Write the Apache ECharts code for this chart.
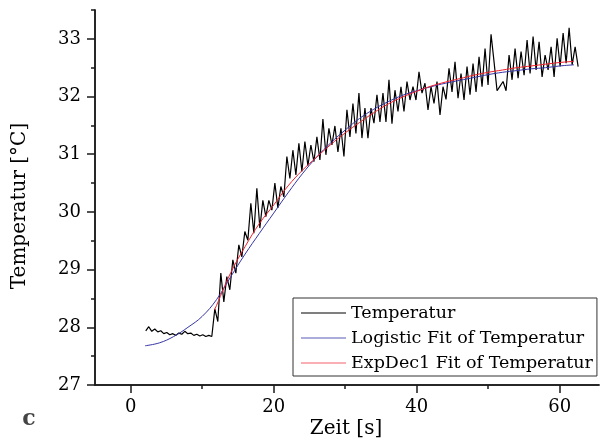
<!DOCTYPE html>
<html>
<head>
<meta charset="utf-8">
<script src="https://cdn.jsdelivr.net/npm/echarts@6/dist/echarts.min.js"></script>
<style>
  html, body { margin: 0; padding: 0; background: #fff; }
  #chart { width: 600px; height: 444px; }
</style>
</head>
<body>
<div id="chart"></div>
<script>
// Measured temperature, sampled every timeStep seconds starting at timeStart
const timeStart = 2.1;
const timeStep = 0.42;
const temperatur = [
  27.94, 28.01, 27.93, 27.97, 27.92, 27.94, 27.89, 27.91, 27.87, 27.89,
  27.86, 27.90, 27.88, 27.93, 27.89, 27.90, 27.86, 27.88, 27.85, 27.87,
  27.84, 27.86, 27.84, 28.32, 28.10, 28.94, 28.44, 28.88, 28.65, 29.17,
  28.94, 29.43, 29.22, 29.66, 29.51, 30.15, 29.63, 30.41, 29.72, 30.20,
  29.92, 30.20, 30.03, 30.50, 30.07, 30.44, 30.26, 30.96, 30.58, 31.07,
  30.64, 31.19, 30.70, 31.22, 30.80, 31.16, 30.87, 31.30, 30.90, 31.61,
  30.99, 31.45, 31.16, 31.49, 31.04, 31.45, 30.96, 31.77, 31.30, 31.88,
  31.36, 32.06, 31.28, 31.80, 31.28, 31.80, 31.54, 32.03, 31.56, 32.06,
  31.56, 32.29, 31.53, 32.11, 31.74, 32.17, 31.74, 32.26, 31.94, 32.17,
  31.94, 32.43, 32.06, 32.23, 31.77, 32.17, 31.88, 32.26, 31.68, 32.17,
  31.95, 32.49, 32.08, 32.60, 31.97, 32.40, 31.94, 32.52, 32.03, 32.57,
  32.08, 32.69, 32.17, 32.83, 32.20, 33.08, 32.60, 32.10, 32.18, 32.26,
  32.10, 32.72, 32.29, 32.83, 32.32, 32.78, 32.37, 32.98, 32.40, 33.04,
  32.46, 32.95, 32.34, 32.72, 32.46, 32.86, 32.34, 33.01, 32.52, 33.10,
  32.58, 33.19, 32.55, 32.86, 32.52
];

// Logistic fit curve
const logisticTime = [2, 4, 6, 8, 10, 12, 14, 16, 18, 20, 22, 24, 26, 28, 30, 32,
  34, 36, 38, 40, 42, 44, 46, 48, 50, 52, 54, 56, 58, 60, 62];
const logisticFit = [27.68, 27.73, 27.84, 28.00, 28.19, 28.48, 28.88, 29.27, 29.63, 29.98,
  30.33, 30.66, 30.95, 31.20, 31.42, 31.62, 31.78, 31.91, 32.02, 32.10, 32.17, 32.23,
  32.28, 32.33, 32.38, 32.42, 32.45, 32.48, 32.50, 32.53, 32.55];

// ExpDec1 fit curve
const expDecTime = [11.7, 12, 14, 16, 18, 20, 22, 24, 26, 28, 30, 32, 34, 36, 38, 40,
  42, 44, 46, 48, 50, 52, 54, 56, 58, 60, 62];
const expDecFit = [28.30, 28.38, 28.95, 29.40, 29.80, 30.12, 30.45, 30.72, 30.95, 31.17,
  31.37, 31.55, 31.72, 31.87, 31.99, 32.09, 32.18, 32.25, 32.31, 32.37, 32.42, 32.46,
  32.50, 32.53, 32.56, 32.59, 32.61];

// Axis ticks
const xMajorTicks = [0, 20, 40, 60];
const xMinorTicks = [10, 30, 50];
const yMajorTicks = [27, 28, 29, 30, 31, 32, 33];
const yMinorTicks = [27.5, 28.5, 29.5, 30.5, 31.5, 32.5, 33.5];

const seriesNames = ['Temperatur', 'Logistic Fit of Temperatur', 'ExpDec1 Fit of Temperatur'];

const font = 'DejaVu Serif';
const axisColor = '#1a1a1a';

const tempData = temperatur.map((v, i) => [timeStart + i * timeStep, v]);
const logisticData = logisticTime.map((t, i) => [t, logisticFit[i]]);
const expDecData = expDecTime.map((t, i) => [t, expDecFit[i]]);

const xRange = { min: -5, max: 65.5 };
const yRange = { min: 27, max: 33.5 };

function xAxisDef(ticks, len, labels) {
  return {
    type: 'value', position: 'bottom', min: xRange.min, max: xRange.max,
    axisLine: { show: true, onZero: false, lineStyle: { color: axisColor, width: 1.5 } },
    axisTick: { show: true, inside: false, length: len, customValues: ticks,
      lineStyle: { color: axisColor, width: 1.5 } },
    axisLabel: labels ? { show: true, customValues: ticks, margin: 13,
      fontFamily: font, fontSize: 18, color: '#000' } : { show: false },
    splitLine: { show: false }
  };
}
function yAxisDef(ticks, len, labels) {
  return {
    type: 'value', position: 'left', min: yRange.min, max: yRange.max,
    axisLine: { show: true, onZero: false, lineStyle: { color: axisColor, width: 1.5 } },
    axisTick: { show: true, inside: false, length: len, customValues: ticks,
      lineStyle: { color: axisColor, width: 1.5 } },
    axisLabel: labels ? { show: true, customValues: ticks, margin: 14,
      fontFamily: font, fontSize: 18, color: '#000' } : { show: false },
    splitLine: { show: false }
  };
}

const chart = echarts.init(document.getElementById('chart'), null, { renderer: 'canvas' });
chart.setOption({
  animation: false,
  backgroundColor: '#fff',
  grid: { left: 95, right: 1, top: 10, bottom: 59, containLabel: false },
  xAxis: [xAxisDef(xMajorTicks, 8, true), xAxisDef(xMinorTicks, 4, false)],
  yAxis: [yAxisDef(yMajorTicks, 8, true), yAxisDef(yMinorTicks, 4, false)],
  legend: {
    data: seriesNames,
    orient: 'vertical',
    left: 293, top: 298,
    padding: [6, 4, 4, 8],
    icon: 'rect',
    itemWidth: 45, itemHeight: 1.2, itemGap: 7,
    borderColor: '#333', borderWidth: 1,
    textStyle: { fontFamily: font, fontSize: 17.5, lineHeight: 18, color: '#000' }
  },
  series: [
    { name: seriesNames[0], type: 'line', data: tempData, symbol: 'none',
      lineStyle: { color: '#000', width: 1.2 }, itemStyle: { color: '#000' } },
    { name: seriesNames[1], type: 'line', data: logisticData, symbol: 'none', smooth: 0.4,
      lineStyle: { color: '#3535a5', width: 1 }, itemStyle: { color: '#5a5ab8' } },
    { name: seriesNames[2], type: 'line', data: expDecData, symbol: 'none', smooth: 0.4,
      lineStyle: { color: '#f0202c', width: 1 }, itemStyle: { color: '#f5606a' } }
  ],
  graphic: [
    { type: 'text', x: 20, y: 206, rotation: Math.PI / 2,
      style: { text: 'Temperatur [°C]', font: '20px "DejaVu Serif"', fill: '#000',
        textAlign: 'center', textVerticalAlign: 'middle' } },
    { type: 'text', x: 346, y: 429,
      style: { text: 'Zeit [s]', font: '20px "DejaVu Serif"', fill: '#000',
        textAlign: 'center', textVerticalAlign: 'middle' } },
    { type: 'text', x: 29, y: 419,
      style: { text: 'c', font: 'bold 22px "DejaVu Serif"', fill: '#444',
        textAlign: 'center', textVerticalAlign: 'middle' } }
  ]
});
</script>
</body>
</html>
